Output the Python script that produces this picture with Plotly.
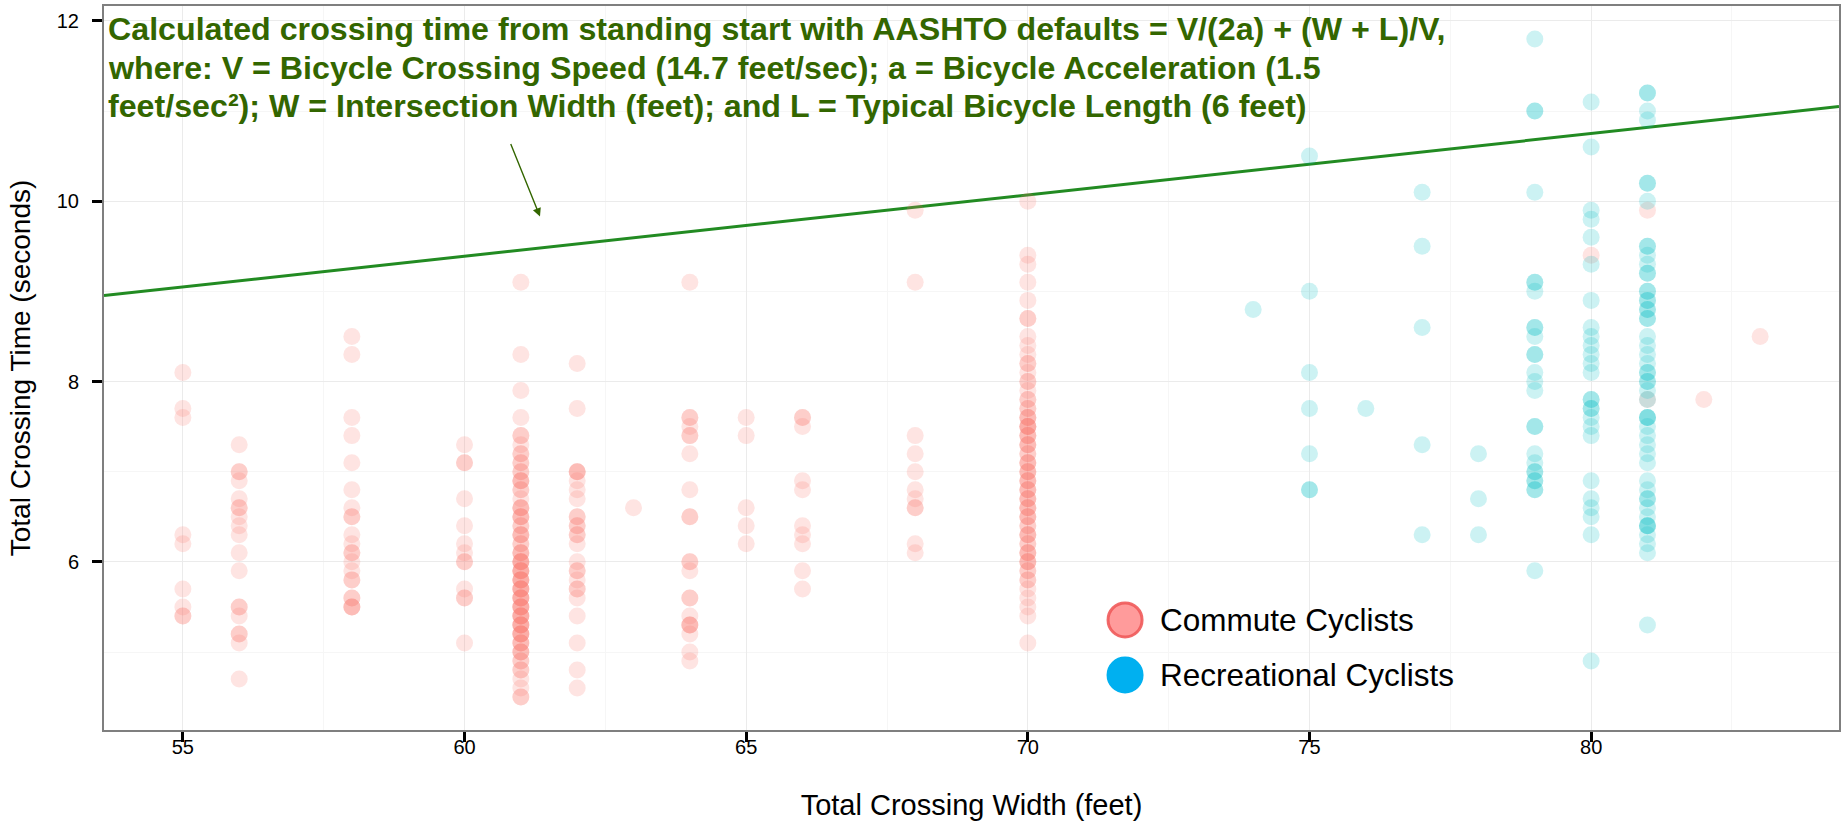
import plotly.graph_objects as go

# ---------------- data ----------------
# Commute cyclists: crossing times (s) per crossing width (ft)
c55 = [8.1, 7.7, 7.6, 6.3, 6.2, 5.7, 5.5, 5.4, 5.4]
c56 = [7.3, 7.0, 7.0, 6.9, 6.7, 6.6, 6.6, 6.5, 6.4, 6.3, 6.1, 5.9, 5.5, 5.5, 5.4, 5.2, 5.2, 5.1, 4.7]
c58 = [8.5, 8.3, 7.6, 7.4, 7.1, 6.8, 6.6, 6.5, 6.5, 6.3, 6.2, 6.1, 6.1, 6.0, 5.9, 5.8, 5.8,
       5.6, 5.6, 5.5, 5.5, 5.5]
c60 = [7.3, 7.1, 7.1, 6.7, 6.4, 6.2, 6.1, 6.0, 6.0, 5.7, 5.6, 5.6, 5.1]
c61 = [9.1, 8.3, 7.9, 7.6,
       7.4, 7.4, 7.3, 7.2, 7.2, 7.1, 7.1, 7.0, 7.0, 6.9, 6.9, 6.9, 6.8, 6.8, 6.7,
       6.6, 6.6, 6.6, 6.5, 6.5, 6.5, 6.4, 6.4, 6.3, 6.3, 6.3, 6.2, 6.2, 6.1, 6.1, 6.1,
       6.0, 6.0, 6.0, 6.0, 5.9, 5.9, 5.9, 5.9, 5.8, 5.8, 5.8, 5.8, 5.7, 5.7, 5.7, 5.7,
       5.6, 5.6, 5.6, 5.6, 5.5, 5.5, 5.5, 5.5, 5.4, 5.4, 5.4, 5.4, 5.3, 5.3, 5.3, 5.3,
       5.2, 5.2, 5.2, 5.2, 5.1, 5.1, 5.1, 5.0, 5.0, 5.0, 4.9, 4.9, 4.8, 4.8, 4.7, 4.6,
       4.5, 4.5]
c62 = [8.2, 7.7, 7.0, 7.0, 7.0, 6.9, 6.8, 6.7, 6.5, 6.5, 6.4, 6.4, 6.3, 6.3, 6.2, 6.0,
       5.9, 5.9, 5.8, 5.7, 5.7, 5.6, 5.4, 5.1, 4.8, 4.6]
c63 = [6.6]
c64 = [9.1, 7.6, 7.6, 7.5, 7.4, 7.4, 7.2, 6.8, 6.5, 6.5, 6.0, 6.0, 5.9, 5.6, 5.6, 5.4,
       5.3, 5.3, 5.3, 5.2, 5.0, 4.9]
c65 = [7.6, 7.4, 6.6, 6.4, 6.2]
c66 = [7.6, 7.6, 7.5, 6.9, 6.8, 6.4, 6.3, 6.2, 5.9, 5.7]
c68 = [9.9, 9.1, 7.4, 7.2, 7.0, 6.8, 6.7, 6.6, 6.6, 6.2, 6.1]
c70 = [10.0, 9.4, 9.3, 9.1, 8.9, 8.7, 8.7, 8.5, 8.4, 8.3, 8.2, 8.2, 8.1, 8.0, 8.0, 7.9,
       7.8, 7.8, 7.7, 7.7, 7.6, 7.6, 7.6, 7.5, 7.5, 7.5, 7.5, 7.4, 7.4, 7.4, 7.3, 7.3,
       7.3, 7.2, 7.2, 7.1, 7.1, 7.1, 7.0, 7.0, 7.0, 6.9, 6.9, 6.9, 6.8, 6.8, 6.8, 6.7,
       6.7, 6.7, 6.6, 6.6, 6.6, 6.5, 6.5, 6.5, 6.4, 6.4, 6.3, 6.3, 6.3, 6.2, 6.2, 6.1,
       6.1, 6.1, 6.0, 6.0, 6.0, 5.9, 5.9, 5.8, 5.8, 5.7, 5.6, 5.5, 5.4, 5.1]
c80 = [9.4]
c81 = [9.9, 7.8]
c82 = [7.8]
c83 = [8.5]

# Recreational cyclists
r74 = [8.8]
r75 = [10.5, 9.0, 8.1, 7.7, 7.2, 6.8, 6.8]
r76 = [7.7]
r77 = [10.1, 9.5, 8.6, 7.3, 6.3]
r78 = [7.2, 6.7, 6.3]
r79 = [11.8, 11.0, 11.0, 10.1, 9.1, 9.1, 9.0, 8.6, 8.6, 8.5, 8.3, 8.3, 8.1, 8.0, 7.9,
       7.5, 7.5, 7.2, 7.1, 7.0, 7.0, 6.9, 6.9, 6.8, 6.8, 5.9]
r80 = [11.1, 10.6, 9.9, 9.8, 9.6, 9.3, 8.9, 8.6, 8.5, 8.4, 8.3, 8.2, 8.1, 7.8, 7.8,
       7.7, 7.7, 7.6, 7.5, 7.4, 6.9, 6.7, 6.6, 6.5, 6.3, 4.9]
r81 = [11.2, 11.2, 11.0, 10.9, 10.2, 10.2, 10.0, 9.5, 9.5, 9.4, 9.3, 9.2, 9.2, 9.0, 9.0,
       8.9, 8.9, 8.8, 8.8, 8.7, 8.7, 8.5, 8.4, 8.3, 8.2, 8.1, 8.1, 8.0, 8.0, 7.9, 7.8,
       7.6, 7.6, 7.6, 7.5, 7.4, 7.3, 7.2, 7.1, 6.9, 6.8, 6.7, 6.7, 6.6, 6.5, 6.4, 6.4,
       6.4, 6.3, 6.2, 6.1, 5.3]

commute_cols = {55: c55, 56: c56, 58: c58, 60: c60, 61: c61, 62: c62, 63: c63, 64: c64,
                65: c65, 66: c66, 68: c68, 70: c70, 80: c80, 81: c81, 82: c82, 83: c83}
recreational_cols = {74: r74, 75: r75, 76: r76, 77: r77, 78: r78, 79: r79, 80: r80, 81: r81}

# AASHTO formula constants
V = 14.7   # feet/sec
A = 1.5    # feet/sec^2
L = 6.0    # feet
line_widths = [53.6, 84.4]

x_ticks = [55, 60, 65, 70, 75, 80]
y_ticks = [6, 8, 10, 12]

legend_labels = ["Commute Cyclists", "Recreational Cyclists"]

note_lines = [
    "Calculated crossing time from standing start with AASHTO defaults = V/(2a) + (W + L)/V,",
    "where: V = Bicycle Crossing Speed (14.7 feet/sec); a = Bicycle Acceleration (1.5",
    "feet/sec²); W = Intersection Width (feet); and L = Typical Bicycle Length (6 feet)",
]
# ----------------------------------------------------------------

def flatten(cols):
    xs, ys = [], []
    for w, times in cols.items():
        for t in times:
            xs.append(w)
            ys.append(t)
    return xs, ys

cx, cy = flatten(commute_cols)
rx, ry = flatten(recreational_cols)
line_times = [V / (2 * A) + (w + L) / V for w in line_widths]

fig = go.Figure()
fig.add_trace(go.Scatter(x=line_widths, y=line_times, mode="lines",
                         line=dict(color="#228B22", width=3), showlegend=False,
                         hoverinfo="skip"))
fig.add_trace(go.Scatter(x=cx, y=cy, mode="markers", name=legend_labels[0],
                         marker=dict(size=17, color="rgba(248,118,109,0.2)", line=dict(width=0)),
                         showlegend=False))
fig.add_trace(go.Scatter(x=rx, y=ry, mode="markers", name=legend_labels[1],
                         marker=dict(size=17, color="rgba(0,191,196,0.2)", line=dict(width=0)),
                         showlegend=False))

font_main = "Liberation Sans, Arial, sans-serif"
font_narrow = "Liberation Sans Narrow, Arial Narrow, Liberation Sans, Arial, sans-serif"

axis_common = dict(
    showline=True, linecolor="#7f7f7f", linewidth=2, mirror=True,
    ticks="outside", ticklen=10, tickwidth=3, tickcolor="black",
    showgrid=True, gridcolor="#ebebeb", gridwidth=1.2, zeroline=False,
    tickfont=dict(family=font_main, size=20, color="black"),
)

fig.update_xaxes(range=[53.6, 84.4], tickvals=x_ticks, **axis_common,
                 minor=dict(showgrid=True, gridcolor="#f6f6f6", gridwidth=1, dtick=2.5, tick0=52.5),
                 ticklabelstandoff=-12,
                 title=dict(text="Total Crossing Width (feet)",
                            font=dict(family=font_main, size=29, color="black"), standoff=38))
fig.update_yaxes(range=[4.135, 12.165], tickvals=y_ticks, **axis_common,
                 minor=dict(showgrid=True, gridcolor="#f6f6f6", gridwidth=1, dtick=1, tick0=5),
                 ticklabelstandoff=9,
                 title=dict(text="Total Crossing Time (seconds)",
                            font=dict(family=font_main, size=28, color="black"), standoff=18))

annotations = []
note_bottoms = [0.9424, 0.8888, 0.8352]
for line, yb in zip(note_lines, note_bottoms):
    annotations.append(dict(text="<b>" + line + "</b>", xref="paper", yref="paper",
                            x=0.002, y=yb, xanchor="left", yanchor="bottom",
                            align="left", showarrow=False, borderpad=0,
                            font=dict(family=font_narrow, size=32.2, color="#336600")))
annotations.append(dict(x=61.34, y=9.83, ax=60.81, ay=10.65, xref="x", yref="y",
                        axref="x", ayref="y", text="", showarrow=True, arrowhead=2,
                        arrowsize=1.2, arrowwidth=1.4, arrowcolor="#336600"))

# custom legend (large symbols as in the reference)
legend_x = 0.5885
legend_text_x = 0.6075
legend_rows_y = [0.152, 0.076]
legend_fill = ["rgba(255,150,150,0.95)", "#00B0F0"]
legend_line = ["rgba(240,90,90,0.9)", "#00B0F0"]
shapes = []
for i, lab in enumerate(legend_labels):
    shapes.append(dict(type="circle", xref="paper", yref="paper",
                       xsizemode="pixel", ysizemode="pixel",
                       xanchor=legend_x, yanchor=legend_rows_y[i],
                       x0=-17, x1=17, y0=-17, y1=17,
                       fillcolor=legend_fill[i], line=dict(color=legend_line[i], width=3)))
    annotations.append(dict(text=lab, xref="paper", yref="paper", x=legend_text_x,
                            y=legend_rows_y[i], xanchor="left", yanchor="middle",
                            showarrow=False, font=dict(family=font_main, size=31.5, color="black")))

fig.update_layout(
    width=1845, height=823,
    margin=dict(l=104, r=4, t=6, b=93),
    paper_bgcolor="white", plot_bgcolor="white",
    showlegend=False,
    annotations=annotations, shapes=shapes,
)

fig.write_html("out.html")
